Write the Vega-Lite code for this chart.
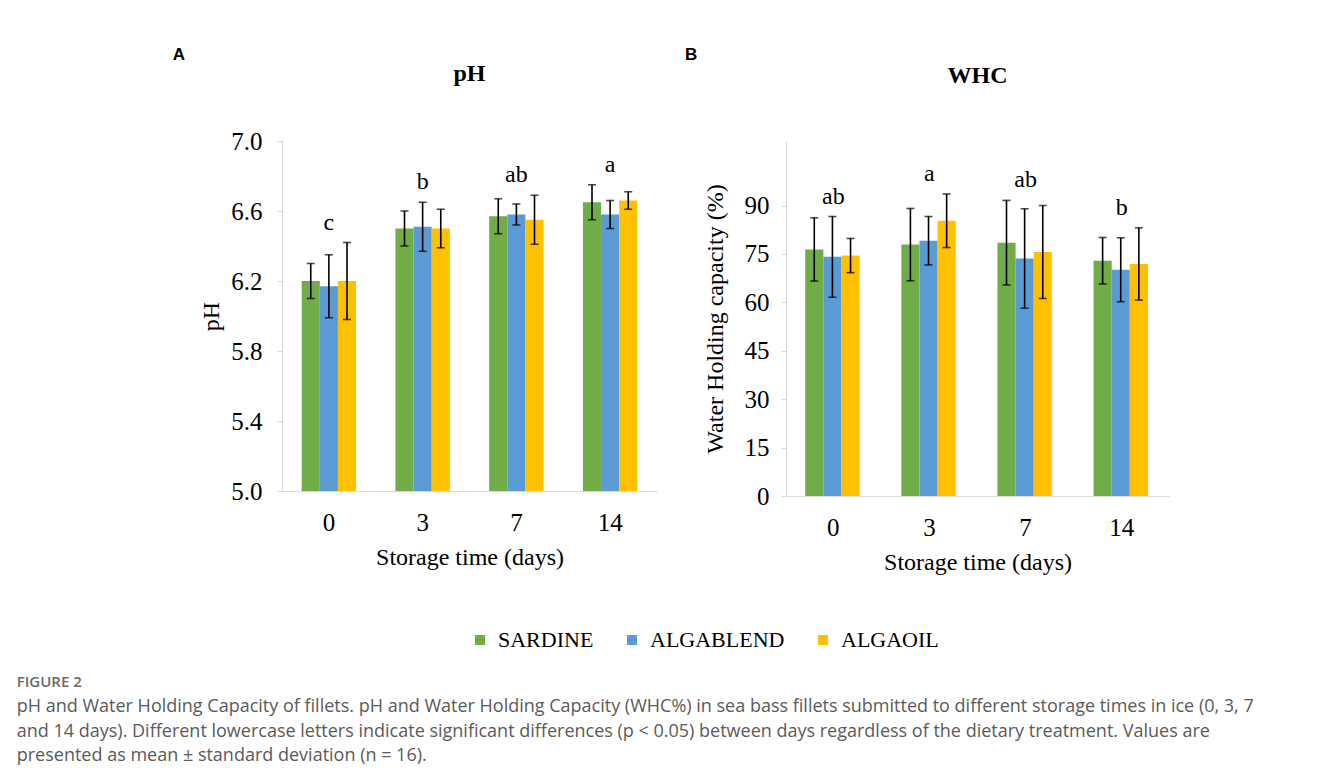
{
  "$schema": "https://vega.github.io/schema/vega-lite/v6.json",
  "background": "white",
  "padding": {"left": 16, "top": 46, "right": 10, "bottom": 5},
  "datasets": {
    "ph": [
      {"day": "0", "diet": "SARDINE", "mean": 6.20, "sd": 0.10},
      {"day": "0", "diet": "ALGABLEND", "mean": 6.17, "sd": 0.18},
      {"day": "0", "diet": "ALGAOIL", "mean": 6.20, "sd": 0.22},
      {"day": "3", "diet": "SARDINE", "mean": 6.50, "sd": 0.10},
      {"day": "3", "diet": "ALGABLEND", "mean": 6.51, "sd": 0.14},
      {"day": "3", "diet": "ALGAOIL", "mean": 6.50, "sd": 0.11},
      {"day": "7", "diet": "SARDINE", "mean": 6.57, "sd": 0.10},
      {"day": "7", "diet": "ALGABLEND", "mean": 6.58, "sd": 0.06},
      {"day": "7", "diet": "ALGAOIL", "mean": 6.55, "sd": 0.14},
      {"day": "14", "diet": "SARDINE", "mean": 6.65, "sd": 0.10},
      {"day": "14", "diet": "ALGABLEND", "mean": 6.58, "sd": 0.08},
      {"day": "14", "diet": "ALGAOIL", "mean": 6.66, "sd": 0.05}
    ],
    "whc": [
      {"day": "0", "diet": "SARDINE", "mean": 76.4, "sd": 9.8},
      {"day": "0", "diet": "ALGABLEND", "mean": 74.1, "sd": 12.5},
      {"day": "0", "diet": "ALGAOIL", "mean": 74.5, "sd": 5.3},
      {"day": "3", "diet": "SARDINE", "mean": 77.9, "sd": 11.2},
      {"day": "3", "diet": "ALGABLEND", "mean": 79.1, "sd": 7.5},
      {"day": "3", "diet": "ALGAOIL", "mean": 85.3, "sd": 8.3},
      {"day": "7", "diet": "SARDINE", "mean": 78.5, "sd": 13.1},
      {"day": "7", "diet": "ALGABLEND", "mean": 73.6, "sd": 15.4},
      {"day": "7", "diet": "ALGAOIL", "mean": 75.6, "sd": 14.4},
      {"day": "14", "diet": "SARDINE", "mean": 72.9, "sd": 7.2},
      {"day": "14", "diet": "ALGABLEND", "mean": 70.1, "sd": 9.9},
      {"day": "14", "diet": "ALGAOIL", "mean": 71.9, "sd": 11.2}
    ],
    "phLetters": [
      {"day": "0", "letter": "c"},
      {"day": "3", "letter": "b"},
      {"day": "7", "letter": "ab"},
      {"day": "14", "letter": "a"}
    ],
    "whcLetters": [
      {"day": "0", "letter": "ab"},
      {"day": "3", "letter": "a"},
      {"day": "7", "letter": "ab"},
      {"day": "14", "letter": "b"}
    ]
  },
  "title": {
    "text": "FIGURE 2",
    "subtitle": [
      "pH and Water Holding Capacity of fillets. pH and Water Holding Capacity (WHC%) in sea bass fillets submitted to different storage times in ice (0, 3, 7",
      "and 14 days). Different lowercase letters indicate significant differences (p < 0.05) between days regardless of the dietary treatment. Values are",
      "presented as mean ± standard deviation (n = 16)."
    ],
    "orient": "bottom",
    "anchor": "start",
    "frame": "bounds",
    "dx": -156,
    "offset": 24,
    "font": "Open Sans",
    "fontSize": 15,
    "fontWeight": 600,
    "color": "#6a6a6a",
    "subtitleFont": "Open Sans",
    "subtitleFontSize": 18,
    "subtitleColor": "#5a5a5a",
    "subtitleLineHeight": 24.5,
    "subtitlePadding": 8
  },
  "spacing": 28,
  "hconcat": [
    {
      "title": {"text": "A", "anchor": "start", "frame": "bounds", "font": "Liberation Sans", "fontSize": 17, "fontWeight": "bold", "color": "#000000", "offset": -2, "dx": -27},
      "vconcat": [
        {
          "width": 375,
          "height": 350,
          "title": {"text": "pH", "font": "Liberation Serif", "fontSize": 24, "fontWeight": "bold", "color": "#000000", "offset": 43, "anchor": "middle"},
          "data": {"name": "ph"},
          "encoding": {
            "x": {
              "field": "day", "type": "ordinal", "sort": ["0", "3", "7", "14"],
              "scale": {"paddingInner": 0.42, "paddingOuter": 0.21},
              "title": "Storage time (days)",
              "axis": {"labelAngle": 0, "ticks": false, "labelPadding": 19, "titlePadding": 10, "domainColor": "#d9d9d9"}
            }
          },
          "layer": [
            {
              "mark": {"type": "bar"},
              "encoding": {
                "xOffset": {"field": "diet", "sort": ["SARDINE", "ALGABLEND", "ALGAOIL"]},
                "y": {
                  "field": "mean", "type": "quantitative", "scale": {"domain": [5, 7]}, "title": "pH",
                  "axis": {"values": [5, 5.4, 5.8, 6.2, 6.6, 7], "format": ".1f", "grid": false, "tickSize": 5, "tickColor": "#d9d9d9", "domainColor": "#d9d9d9", "labelPadding": 15, "titlePadding": 7}
                },
                "y2": {"datum": 5},
                "color": {
                  "field": "diet", "type": "nominal",
                  "scale": {"domain": ["SARDINE", "ALGABLEND", "ALGAOIL"], "range": ["#70AD47", "#5B9BD5", "#FFC000"]},
                  "legend": {"orient": "none", "legendX": 187, "legendY": 488, "direction": "horizontal", "title": null, "symbolType": "square", "symbolSize": 100, "symbolStrokeWidth": 0, "labelFont": "serif", "labelFontSize": 22, "labelColor": "#000000", "labelOffset": 7, "columnPadding": 27}
                }
              }
            },
            {
              "transform": [{"calculate": "datum.mean - datum.sd", "as": "lo"}, {"calculate": "datum.mean + datum.sd", "as": "hi"}],
              "mark": {"type": "rule", "color": "#000000", "strokeWidth": 1.6},
              "encoding": {
                "xOffset": {"field": "diet", "sort": ["SARDINE", "ALGABLEND", "ALGAOIL"]},
                "y": {"field": "lo", "type": "quantitative"},
                "y2": {"field": "hi"}
              }
            },
            {
              "transform": [{"calculate": "datum.mean - datum.sd", "as": "lo"}],
              "mark": {"type": "tick", "orient": "horizontal", "color": "#000000", "size": 8, "thickness": 1.6},
              "encoding": {
                "xOffset": {"field": "diet", "sort": ["SARDINE", "ALGABLEND", "ALGAOIL"]},
                "y": {"field": "lo", "type": "quantitative"}
              }
            },
            {
              "transform": [{"calculate": "datum.mean + datum.sd", "as": "hi"}],
              "mark": {"type": "tick", "orient": "horizontal", "color": "#000000", "size": 8, "thickness": 1.6},
              "encoding": {
                "xOffset": {"field": "diet", "sort": ["SARDINE", "ALGABLEND", "ALGAOIL"]},
                "y": {"field": "hi", "type": "quantitative"}
              }
            },
            {
              "transform": [
                {"calculate": "datum.mean + datum.sd", "as": "hi"},
                {"aggregate": [{"op": "max", "field": "hi", "as": "top"}], "groupby": ["day"]},
                {"lookup": "day", "from": {"data": {"name": "phLetters"}, "key": "day", "fields": ["letter"]}}
              ],
              "mark": {"type": "text", "baseline": "alphabetic", "dy": -13, "font": "Liberation Serif", "fontSize": 24, "color": "#000000"},
              "encoding": {
                "y": {"field": "top", "type": "quantitative"},
                "text": {"field": "letter"}
              }
            }
          ]
        }
      ]
    },
    {
      "title": {"text": "B", "anchor": "start", "frame": "bounds", "font": "Liberation Sans", "fontSize": 17, "fontWeight": "bold", "color": "#000000", "offset": 0, "dx": -18},
      "vconcat": [
        {
          "width": 383,
          "height": 355,
          "title": {"text": "WHC", "font": "Liberation Serif", "fontSize": 24, "fontWeight": "bold", "color": "#000000", "offset": 53, "anchor": "middle"},
          "data": {"name": "whc"},
          "encoding": {
            "x": {
              "field": "day", "type": "ordinal", "sort": ["0", "3", "7", "14"],
              "scale": {"paddingInner": 0.415, "paddingOuter": 0.2},
              "title": "Storage time (days)",
              "axis": {"labelAngle": 0, "ticks": false, "labelPadding": 19, "titlePadding": 10, "domainColor": "#d9d9d9"}
            }
          },
          "layer": [
            {
              "mark": {"type": "bar"},
              "encoding": {
                "xOffset": {"field": "diet", "sort": ["SARDINE", "ALGABLEND", "ALGAOIL"]},
                "y": {
                  "field": "mean", "type": "quantitative", "scale": {"domain": [0, 102.3]}, "title": "Water Holding capacity (%)",
                  "axis": {"values": [0, 15, 30, 45, 60, 75, 90], "format": "d", "grid": false, "tickSize": 5, "tickColor": "#d9d9d9", "domainColor": "#d9d9d9", "labelPadding": 12, "titlePadding": 17}
                },
                "color": {
                  "field": "diet", "type": "nominal",
                  "scale": {"domain": ["SARDINE", "ALGABLEND", "ALGAOIL"], "range": ["#70AD47", "#5B9BD5", "#FFC000"]},
                  "legend": {"orient": "none", "legendX": 187, "legendY": 488, "direction": "horizontal", "title": null, "symbolType": "square", "symbolSize": 100, "symbolStrokeWidth": 0, "labelFont": "serif", "labelFontSize": 22, "labelColor": "#000000", "labelOffset": 7, "columnPadding": 27}
                }
              }
            },
            {
              "transform": [{"calculate": "datum.mean - datum.sd", "as": "lo"}, {"calculate": "datum.mean + datum.sd", "as": "hi"}],
              "mark": {"type": "rule", "color": "#000000", "strokeWidth": 1.6},
              "encoding": {
                "xOffset": {"field": "diet", "sort": ["SARDINE", "ALGABLEND", "ALGAOIL"]},
                "y": {"field": "lo", "type": "quantitative"},
                "y2": {"field": "hi"}
              }
            },
            {
              "transform": [{"calculate": "datum.mean - datum.sd", "as": "lo"}],
              "mark": {"type": "tick", "orient": "horizontal", "color": "#000000", "size": 8, "thickness": 1.6},
              "encoding": {
                "xOffset": {"field": "diet", "sort": ["SARDINE", "ALGABLEND", "ALGAOIL"]},
                "y": {"field": "lo", "type": "quantitative"}
              }
            },
            {
              "transform": [{"calculate": "datum.mean + datum.sd", "as": "hi"}],
              "mark": {"type": "tick", "orient": "horizontal", "color": "#000000", "size": 8, "thickness": 1.6},
              "encoding": {
                "xOffset": {"field": "diet", "sort": ["SARDINE", "ALGABLEND", "ALGAOIL"]},
                "y": {"field": "hi", "type": "quantitative"}
              }
            },
            {
              "transform": [
                {"calculate": "datum.mean + datum.sd", "as": "hi"},
                {"aggregate": [{"op": "max", "field": "hi", "as": "top"}], "groupby": ["day"]},
                {"lookup": "day", "from": {"data": {"name": "whcLetters"}, "key": "day", "fields": ["letter"]}}
              ],
              "mark": {"type": "text", "baseline": "alphabetic", "dy": -13, "font": "Liberation Serif", "fontSize": 24, "color": "#000000"},
              "encoding": {
                "y": {"field": "top", "type": "quantitative"},
                "text": {"field": "letter"}
              }
            }
          ]
        }
      ]
    }
  ],
  "config": {
    "view": {"stroke": null},
    "font": "Liberation Serif",
    "legend": {"labelFont": "serif", "labelFontSize": 22, "labelColor": "#000000"},
    "axis": {
      "labelFont": "Liberation Serif",
      "labelFontSize": 25,
      "labelColor": "#000000",
      "titleFont": "Liberation Serif",
      "titleFontSize": 24,
      "titleFontWeight": "normal",
      "titleColor": "#000000"
    }
  }
}
